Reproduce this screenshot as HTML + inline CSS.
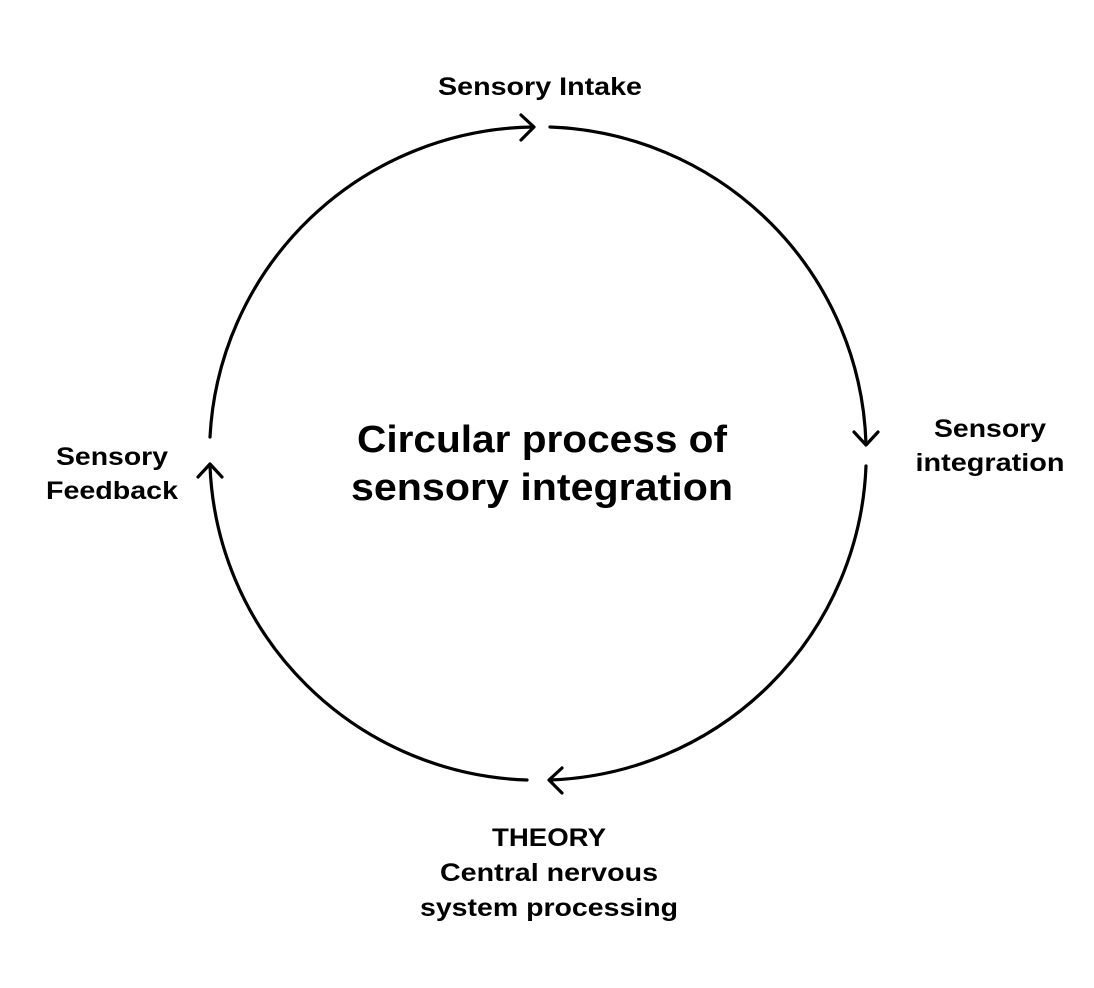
<!DOCTYPE html>
<html><head><style>
body{margin:0;background:#fff;}
svg{display:block}
text{font-family:"Liberation Sans",sans-serif;font-weight:bold;fill:#000;text-anchor:middle}
</style></head><body>
<svg width="1094" height="988" viewBox="0 0 1094 988">
<g fill="none" stroke="#000" stroke-width="3.2" stroke-linecap="round" stroke-linejoin="round">
<path d="M210,437 A328,327 0 0 1 533,127"/>
<path d="M550,127 A328,327 0 0 1 866,444"/>
<path d="M866,466 A328,327 0 0 1 550,780"/>
<path d="M527,780 A328,327 0 0 1 210,466"/>
<path d="M521,115 L534,127 L521,140"/>
<path d="M854,432 L866,445 L878,432"/>
<path d="M562,768 L549,780 L562,793"/>
<path d="M198,477 L210,464 L222,477"/>
</g>
<g font-size="25" lengthAdjust="spacingAndGlyphs">
<text x="540" y="95" textLength="204" lengthAdjust="spacingAndGlyphs">Sensory Intake</text>
<text x="990" y="437" textLength="112" lengthAdjust="spacingAndGlyphs">Sensory</text>
<text x="990" y="471" textLength="149" lengthAdjust="spacingAndGlyphs">integration</text>
<text x="112" y="465" textLength="112" lengthAdjust="spacingAndGlyphs">Sensory</text>
<text x="112" y="499" textLength="132" lengthAdjust="spacingAndGlyphs">Feedback</text>
<text x="549" y="846" textLength="114" lengthAdjust="spacingAndGlyphs">THEORY</text>
<text x="549" y="881" textLength="218" lengthAdjust="spacingAndGlyphs">Central nervous</text>
<text x="549" y="916" textLength="258" lengthAdjust="spacingAndGlyphs">system processing</text>
</g>
<g font-size="38">
<text x="542" y="452" textLength="370" lengthAdjust="spacingAndGlyphs">Circular process of</text>
<text x="542" y="500" textLength="382" lengthAdjust="spacingAndGlyphs">sensory integration</text>
</g>
</svg>
</body></html>
